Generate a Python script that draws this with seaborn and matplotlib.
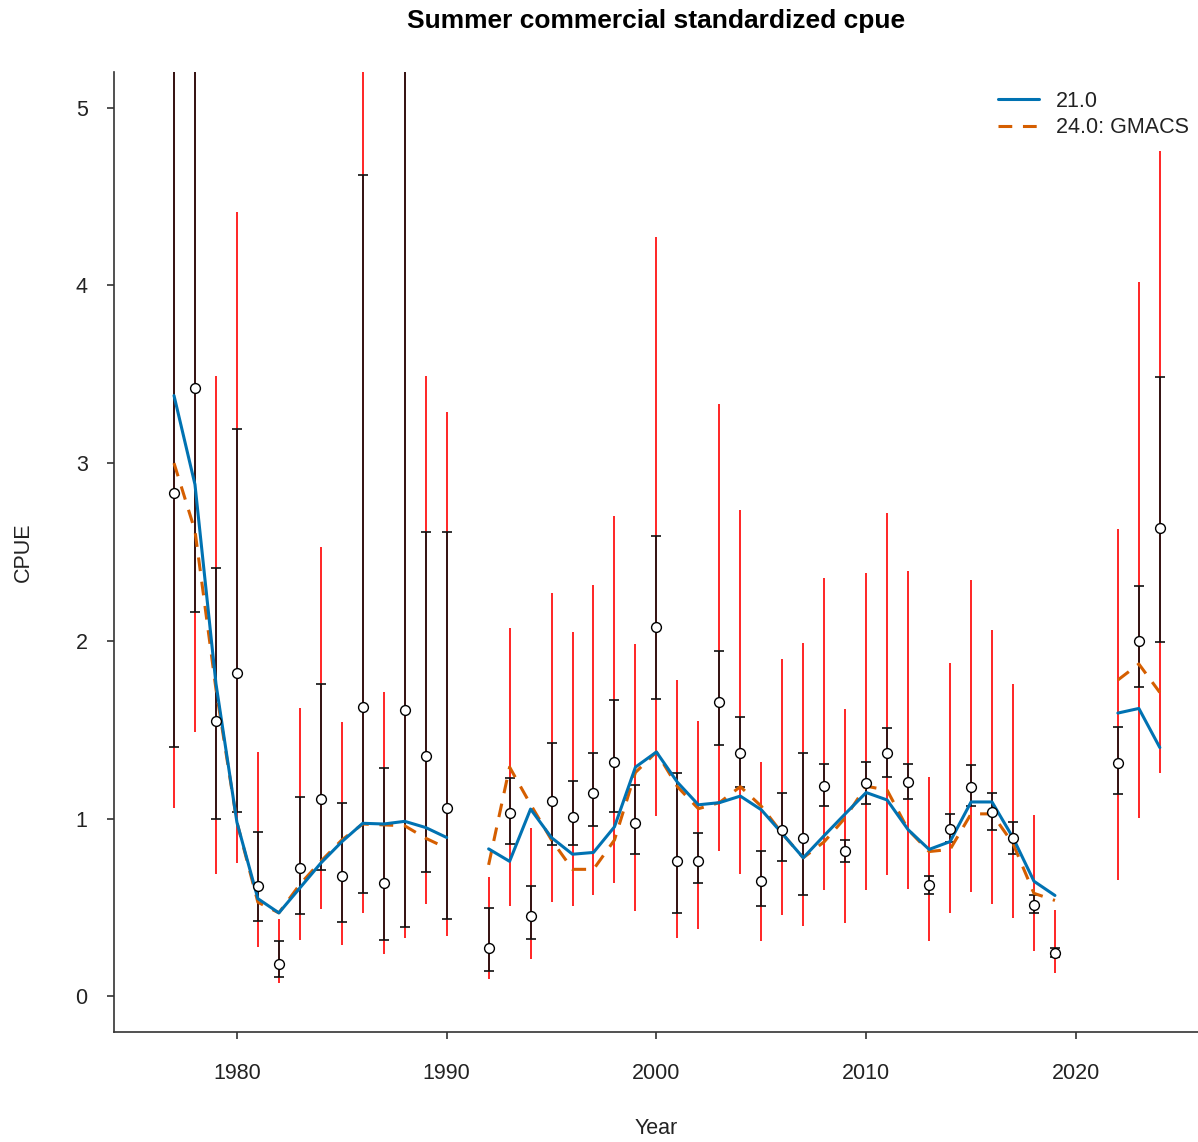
import numpy as np
import pandas as pd
import matplotlib
matplotlib.use("Agg")
import matplotlib.pyplot as plt
import seaborn as sns
from matplotlib.lines import Line2D

# ---------------- data ----------------
years = [1977, 1978, 1979, 1980, 1981, 1982, 1983, 1984, 1985, 1986, 1987, 1988, 1989, 1990,
         1992, 1993, 1994, 1995, 1996, 1997, 1998, 1999, 2000, 2001, 2002, 2003, 2004, 2005,
         2006, 2007, 2008, 2009, 2010, 2011, 2012, 2013, 2014, 2015, 2016, 2017, 2018, 2019,
         2022, 2023, 2024]
obs = [2.83, 3.42, 1.55, 1.82, 0.62, 0.18, 0.72, 1.11, 0.68, 1.63, 0.64, 1.61, 1.35, 1.06,
       0.27, 1.03, 0.45, 1.10, 1.01, 1.145, 1.317, 0.974, 2.08, 0.764, 0.764, 1.655, 1.37, 0.648,
       0.938, 0.889, 1.183, 0.818, 1.20, 1.37, 1.208, 0.626, 0.943, 1.179, 1.038, 0.889, 0.517, 0.245,
       1.315, 2.00, 2.636]
black_lo = [1.405, 2.16, 1.00, 1.04, 0.425, 0.108, 0.465, 0.71, 0.42, 0.58, 0.32, 0.388, 0.70, 0.435,
            0.143, 0.856, 0.323, 0.85, 0.85, 0.958, 1.036, 0.80, 1.673, 0.468, 0.64, 1.415, 1.18, 0.508,
            0.764, 0.568, 1.074, 0.755, 1.083, 1.237, 1.112, 0.577, 0.867, 1.072, 0.936, 0.804, 0.47, 0.22,
            1.14, 1.743, 1.995]
black_hi = [6.0, 6.0, 2.41, 3.19, 0.925, 0.31, 1.12, 1.76, 1.086, 4.62, 1.287, 6.0, 2.61, 2.61,
            0.50, 1.23, 0.624, 1.424, 1.21, 1.37, 1.67, 1.19, 2.59, 1.259, 0.918, 1.943, 1.57, 0.82,
            1.145, 1.37, 1.306, 0.88, 1.32, 1.508, 1.306, 0.68, 1.025, 1.30, 1.143, 0.98, 0.568, 0.27,
            1.515, 2.306, 3.483]
red_lo = [1.06, 1.49, 0.69, 0.75, 0.276, 0.075, 0.317, 0.49, 0.29, 0.47, 0.237, 0.33, 0.52, 0.34,
          0.10, 0.51, 0.21, 0.53, 0.51, 0.568, 0.637, 0.48, 1.016, 0.33, 0.38, 0.82, 0.686, 0.314,
          0.457, 0.397, 0.597, 0.412, 0.597, 0.684, 0.604, 0.314, 0.47, 0.59, 0.52, 0.443, 0.256, 0.13,
          0.655, 1.005, 1.257]
red_hi = [8.0, 8.0, 3.49, 4.41, 1.375, 0.435, 1.62, 2.53, 1.545, 8.0, 1.71, 8.0, 3.49, 3.29,
          0.67, 2.07, 0.95, 2.27, 2.05, 2.317, 2.705, 1.98, 4.27, 1.78, 1.55, 3.33, 2.736, 1.32,
          1.896, 1.99, 2.355, 1.618, 2.38, 2.72, 2.393, 1.237, 1.876, 2.34, 2.06, 1.76, 1.02, 0.486,
          2.632, 4.02, 4.755]
pred_21 = [3.38, 2.88, 1.76, 0.98, 0.55, 0.47, 0.61, 0.75, 0.87, 0.974, 0.97, 0.985, 0.95, 0.894,
           0.83, 0.76, 1.054, 0.893, 0.80, 0.81, 0.954, 1.29, 1.375, 1.205, 1.078, 1.09, 1.127, 1.05,
           0.916, 0.78, 0.905, 1.027, 1.147, 1.105, 0.938, 0.827, 0.871, 1.094, 1.094, 0.893, 0.648, 0.568,
           1.594, 1.62, 1.40]
pred_24 = [3.00, 2.62, 1.73, 0.98, 0.53, 0.47, 0.63, 0.76, 0.88, 0.97, 0.965, 0.96, 0.89, 0.834,
           0.74, 1.29, 1.08, 0.88, 0.715, 0.715, 0.88, 1.26, 1.375, 1.18, 1.056, 1.09, 1.18, 1.07,
           0.916, 0.78, 0.87, 1.005, 1.183, 1.16, 0.938, 0.815, 0.827, 1.027, 1.027, 0.86, 0.58, 0.54,
           1.78, 1.87, 1.71]
model_labels = ["21.0", "24.0: GMACS"]
title = "Summer commercial standardized cpue"
yticks = [0, 1, 2, 3, 4, 5]
xticks = [1980, 1990, 2000, 2010, 2020]

# ---------------- style ----------------
sns.set_theme(style="ticks")
plt.rcParams["font.family"] = ["Liberation Sans", "DejaVu Sans"]

BLUE = "#0072B2"
ORANGE = "#D55E00"
DASH = (4.5, 3.5)

df = pd.DataFrame({"year": years, "obs": obs, "blo": black_lo, "bhi": black_hi,
                   "rlo": red_lo, "rhi": red_hi, "m21": pred_21, "m24": pred_24})
# segments break where years are not consecutive
df["seg"] = (df["year"].diff().fillna(1) != 1).cumsum()

fig = plt.figure(figsize=(11.98, 11.42), dpi=100)
ax = fig.add_axes([114 / 1198, 1 - 1032 / 1142, 1 - 114 / 1198, (1032 - 72) / 1142])

# outer (red) intervals
ax.vlines(df["year"], df["rlo"], df["rhi"], color="#FF0000", lw=1.2, zorder=1)
# inner (black) intervals with caps
ax.errorbar(df["year"], df["obs"], yerr=[df["obs"] - df["blo"], df["bhi"] - df["obs"]],
            fmt="none", ecolor="#111111", elinewidth=1.2, capsize=3.6, capthick=1.2, zorder=2)

# model lines
for seg, sub in df.groupby("seg"):
    sns.lineplot(data=sub, x="year", y="m21", ax=ax, color=BLUE, lw=2.2,
                 estimator=None, sort=False, zorder=4, legend=False)
    l = sns.lineplot(data=sub, x="year", y="m24", ax=ax, color=ORANGE, lw=2.2,
                     estimator=None, sort=False, zorder=3, legend=False)
    l.lines[-1].set_dashes(DASH)

# observed points
sns.scatterplot(data=df, x="year", y="obs", ax=ax, marker="o", s=50,
                facecolor="white", edgecolor="black", linewidth=1.0, zorder=5, legend=False)

ax.set_xlim(1974.14, 2025.82)
ax.set_ylim(-0.2, 5.2)
ax.set_xticks(xticks)
ax.set_yticks(yticks)
ax.set_xticklabels([str(t) for t in xticks])
ax.set_yticklabels([str(t) for t in yticks])
for s in ["top", "right"]:
    ax.spines[s].set_visible(False)
for s in ["left", "bottom"]:
    ax.spines[s].set_color("#333333")
    ax.spines[s].set_linewidth(1.2)
ax.tick_params(axis="both", length=5, width=1.2, color="#333333", labelsize=15.5,
               labelcolor="#222222")
ax.tick_params(axis="x", pad=17)
ax.tick_params(axis="y", pad=14)
ax.set_xlabel("Year", fontsize=15.5, color="#222222", labelpad=25)
ax.set_ylabel("CPUE", fontsize=15.5, color="#222222", labelpad=30)
ax.grid(False)

fig.text(656 / 1198, 1 - 21 / 1142, title, ha="center", va="center",
         fontsize=19, fontweight="bold", color="black")

handles = [Line2D([0], [0], color=BLUE, lw=2.2),
           Line2D([0], [0], color=ORANGE, lw=2.2, dashes=DASH)]
ax.legend(handles, model_labels, loc="upper right", frameon=False, fontsize=15.5,
          handlelength=1.9, handletextpad=0.8, labelspacing=0.25,
          bbox_to_anchor=(1189 / 1198, 1 - 91 / 1142), bbox_transform=fig.transFigure,
          borderaxespad=0, borderpad=0, labelcolor="#222222")

fig.savefig("out.png", dpi=100)
